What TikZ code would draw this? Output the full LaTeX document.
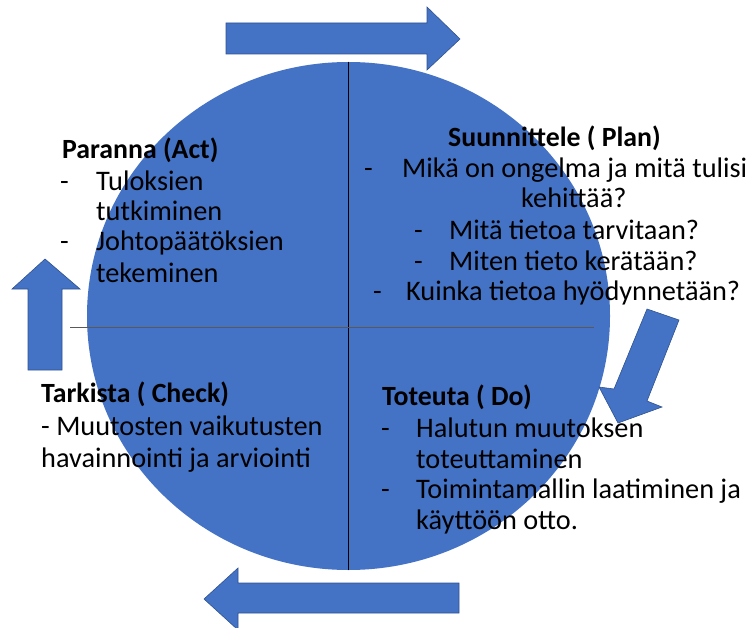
\documentclass[tikz,border=0pt]{standalone}
\usepackage{fontspec}
\setmainfont{Carlito}
\usetikzlibrary{positioning}
\definecolor{pdcablue}{HTML}{4472C4}
\definecolor{pdcaedge}{HTML}{2F528F}
\definecolor{axisgray}{HTML}{595959}

\begin{document}
\begin{tikzpicture}[x=1pt, y=-1pt,
    txt/.style={anchor=base west, inner sep=0pt, font=\fontsize{28.3}{31}\selectfont},
    head/.style={txt, font=\fontsize{27.8}{31}\selectfont\bfseries},
    blockarrow/.style={fill=pdcablue, draw=pdcaedge, line width=0.6pt, line join=miter}]
\useasboundingbox (0,0) rectangle (749,628);

% the circle and its two axes
\fill[pdcablue] (348.5,316) ellipse [x radius=261.5pt, y radius=254pt];
\coordinate (vtop) at (348,62);
\coordinate (vbot) at (348,570);
\coordinate (hleft) at (70,327);
\coordinate (hright) at (594,327);
\draw[black, line width=0.8pt] (vtop) -- (vbot);
\draw[axisgray, line width=0.8pt] (hleft) -- (hright);

% Act
\node[head] (acttitle) at (62,159) {Paranna (Act)};
\node[txt] (actdashA) at (60,191) {-};
\node[txt] (actA) at (96,191) {Tuloksien};
\node[txt] (actAb) at (96,221) {tutkiminen};
\node[txt] (actdashB) at (60,251) {-};
\node[txt] (actB) at (96,251) {Johtopäätöksien};
\node[txt] (actBb) at (96,282) {tekeminen};

% Plan
\node[head] (plantitle) at (448,147) {Suunnittele ( Plan)};
\node[txt] (plandashA) at (364,178) {-};
\node[txt] (planA) at (402,178) {Mikä on ongelma ja mitä tulisi};
\node[txt] (planAb) at (521,208) {kehittää?};
\node[txt] (plandashB) at (414,240) {-};
\node[txt] (planB) at (449,240) {Mitä tietoa tarvitaan?};
\node[txt] (plandashC) at (414,270) {-};
\node[txt] (planC) at (449,270) {Miten tieto kerätään?};
\node[txt] (plandashD) at (373,300) {-};
\node[txt] (planD) at (406,300) {Kuinka tietoa hyödynnetään?};

% Check
\node[head] (checktitle) at (41,402) {Tarkista ( Check)};
\node[txt] (checkA) at (41,435) {- Muutosten vaikutusten};
\node[txt] (checkAb) at (41,467) {havainnointi ja arviointi};

% Do
\node[head] (dotitle) at (382,405) {Toteuta ( Do)};
\node[txt] (dodashA) at (381,437) {-};
\node[txt] (doA) at (416,437) {Halutun muutoksen};
\node[txt] (doAb) at (416,468) {toteuttaminen};
\node[txt] (dodashB) at (381,498) {-};
\node[txt] (doB) at (416,498) {Toimintamallin laatiminen ja};
\node[txt] (doBb) at (416,529) {käyttöön otto.};

% block arrows round the circle
\draw[blockarrow] (226,23) -- (427,23) -- (427,7) -- (460,39) -- (427,70) -- (427,54) -- (226,54) -- cycle;
\draw[blockarrow] (647,309) -- (679,320) -- (647,401) -- (662,407) -- (618,423) -- (599,387) -- (614,389) -- cycle;
\draw[blockarrow] (459,583) -- (238,583) -- (238,568) -- (204,599) -- (238,630) -- (238,613) -- (459,613) -- cycle;
\draw[blockarrow] (28,370) -- (28,289) -- (12,289) -- (45,259) -- (80,289) -- (62,289) -- (62,370) -- cycle;
\end{tikzpicture}
\end{document}
